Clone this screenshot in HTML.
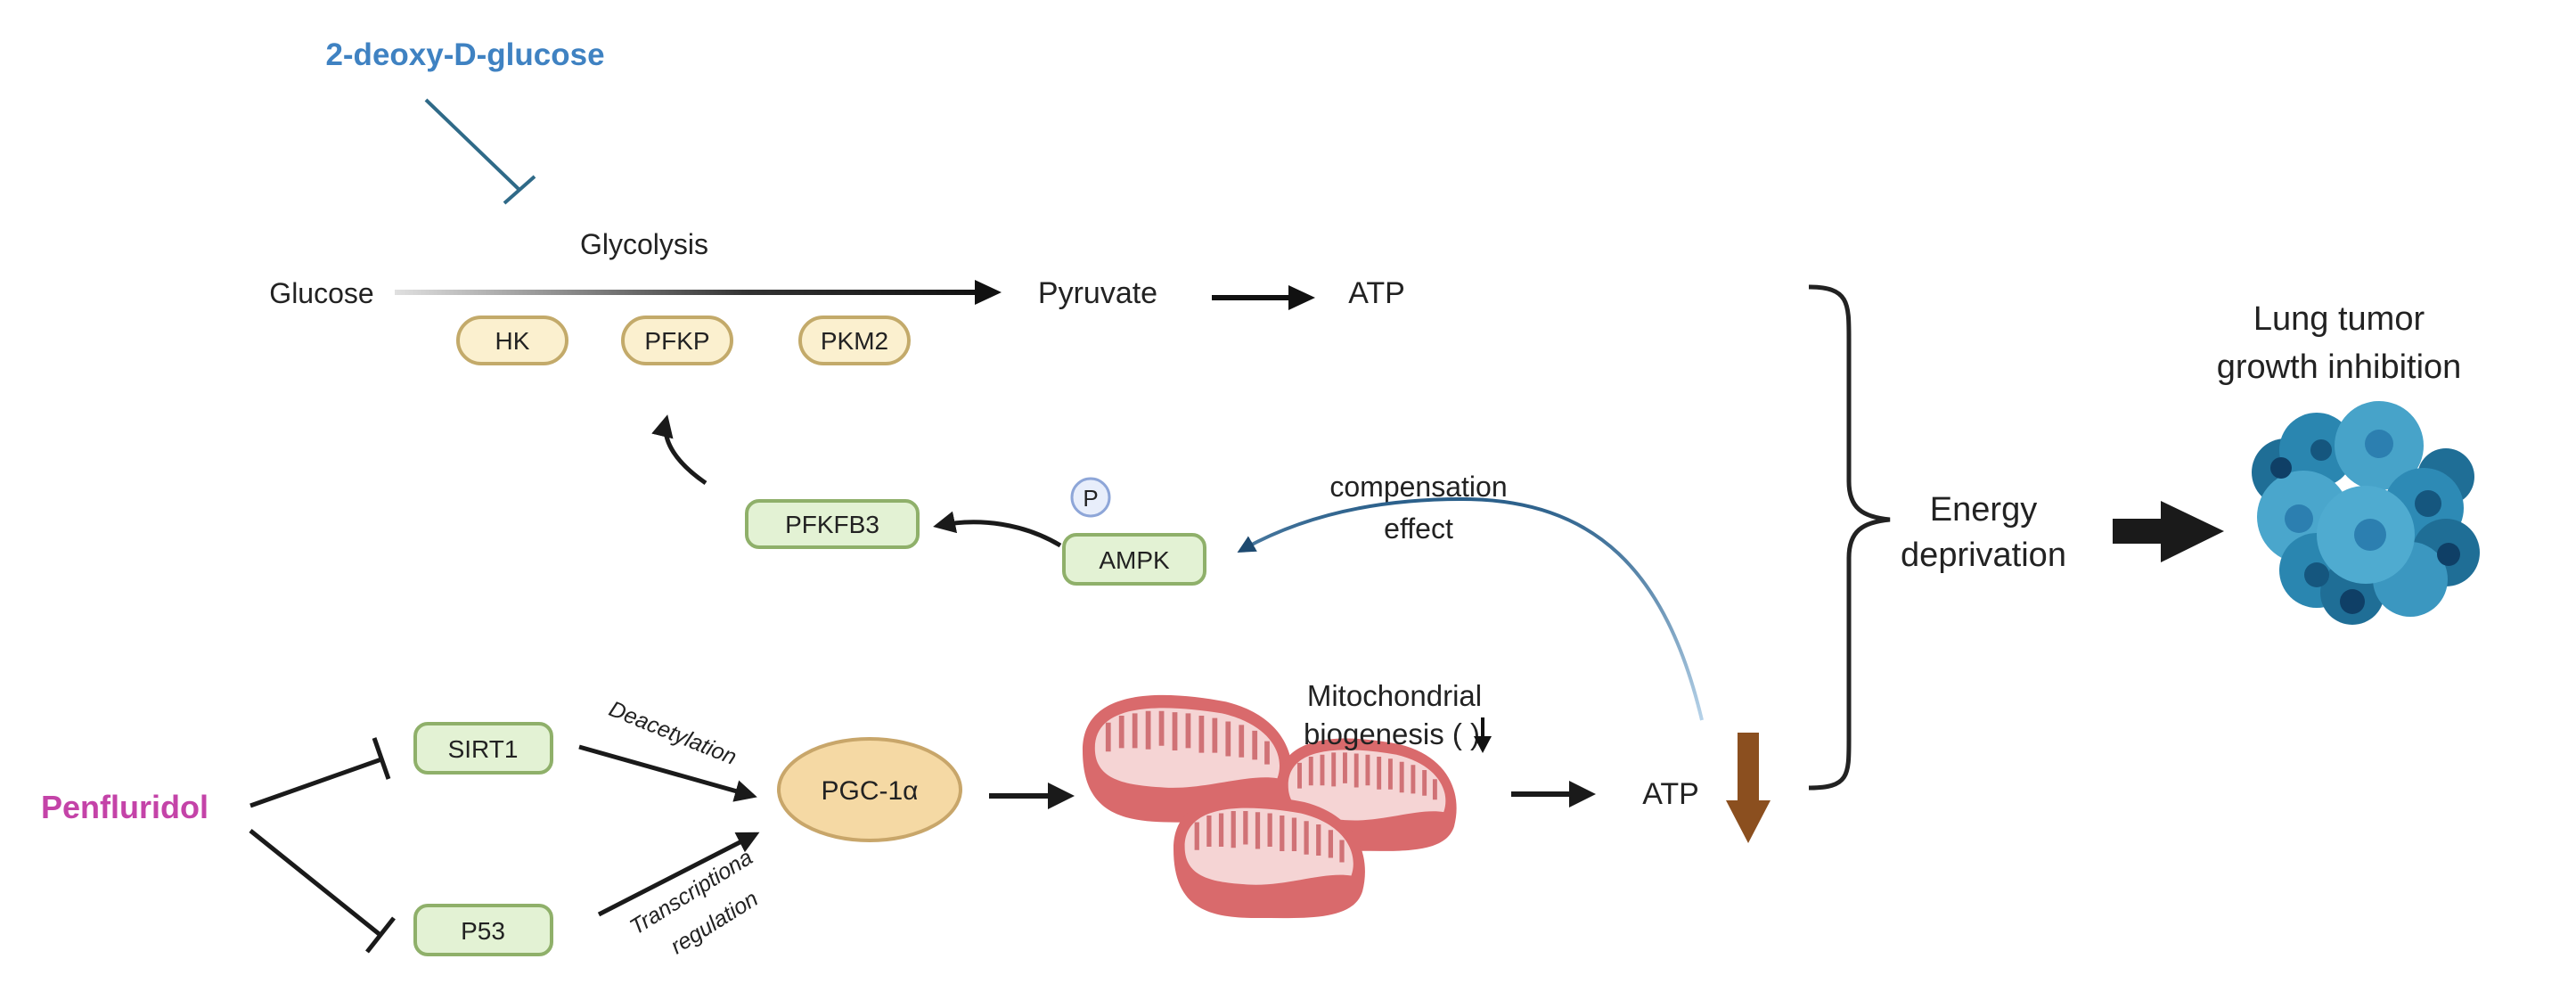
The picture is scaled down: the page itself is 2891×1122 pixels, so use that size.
<!DOCTYPE html>
<html><head><meta charset="utf-8"><style>
html,body{margin:0;padding:0;background:#fff;}
svg{display:block;}
text{font-family:"Liberation Sans",sans-serif;fill:#222;}
</style></head><body>
<svg width="2891" height="1122" viewBox="0 0 2891 1122" xmlns="http://www.w3.org/2000/svg">
<defs>
<linearGradient id="gl" gradientUnits="userSpaceOnUse" x1="443" y1="328" x2="1100" y2="328"><stop offset="0" stop-color="#e0e0e0"/><stop offset="0.6" stop-color="#333"/><stop offset="1" stop-color="#111"/></linearGradient>
<linearGradient id="bl" gradientUnits="userSpaceOnUse" x1="0" y1="810" x2="0" y2="560"><stop offset="0" stop-color="#b8d4ea"/><stop offset="1" stop-color="#2a5f8a"/></linearGradient>
<marker id="ah" viewBox="0 0 10 10" refX="8" refY="5" markerWidth="5" markerHeight="5" orient="auto"><path d="M0,0 L10,5 L0,10 z" fill="#1a1a1a"/></marker>
<marker id="ahb" viewBox="0 0 10 10" refX="8" refY="5" markerWidth="5" markerHeight="5" orient="auto"><path d="M0,0 L10,5 L0,10 z" fill="#1e4a70"/></marker>
<g id="mito">
<path d="M-100,-10 C-100,-65 -20,-62 40,-52 C95,-40 112,-5 102,28 C92,55 40,52 -10,52 C-60,52 -100,45 -100,-10 z" fill="#d96a6c"/>
<path d="M-88,-12 C-88,-52 -20,-50 36,-42 C85,-32 98,-5 90,14 C60,10 20,24 -20,22 C-55,20 -88,17 -88,-12 z" fill="#f5d4d4"/>
<path d="M-75,-34 v25 M-62,-40 v28 M-49,-42 v30 M-36,-44 v33 M-23,-44 v30 M-10,-43 v33 M3,-42 v30 M16,-40 v32 M29,-38 v30 M42,-35 v30 M55,-32 v28 M68,-27 v25 M80,-18 v20" stroke="#d07276" stroke-width="5"/>
</g>
</defs>

<text x="522" y="73" font-size="35" font-weight="bold" text-anchor="middle" style="fill:#3f82c2">2-deoxy-D-glucose</text>
<line x1="478" y1="112" x2="584" y2="214" stroke="#2f6a88" stroke-width="4"/>
<line x1="566" y1="228" x2="600" y2="198" stroke="#2f6a88" stroke-width="4"/>

<text x="723" y="285" font-size="32" text-anchor="middle">Glycolysis</text>
<text x="361" y="340" font-size="32" text-anchor="middle">Glucose</text>
<rect x="443" y="325" width="655" height="6" fill="url(#gl)"/>
<path d="M1094,314 L1124,328 L1094,342 z" fill="#111"/>
<text x="1232" y="340" font-size="34" text-anchor="middle">Pyruvate</text>
<line x1="1360" y1="334" x2="1450" y2="334" stroke="#111" stroke-width="6"/>
<path d="M1446,320 L1476,334 L1446,348 z" fill="#111"/>
<text x="1545" y="340" font-size="34" text-anchor="middle">ATP</text>

<g font-size="28" text-anchor="middle">
<rect x="514" y="356" width="122" height="52" rx="26" fill="#fbf0cf" stroke="#c3aa6a" stroke-width="4"/>
<text x="575" y="392">HK</text>
<rect x="699" y="356" width="122" height="52" rx="26" fill="#fbf0cf" stroke="#c3aa6a" stroke-width="4"/>
<text x="760" y="392">PFKP</text>
<rect x="898" y="356" width="122" height="52" rx="26" fill="#fbf0cf" stroke="#c3aa6a" stroke-width="4"/>
<text x="959" y="392">PKM2</text>
</g>

<path d="M792,542 C760,520 742,495 748,470" fill="none" stroke="#1a1a1a" stroke-width="5" marker-end="url(#ah)"/>

<rect x="838" y="562" width="192" height="52" rx="14" fill="#e3f2d4" stroke="#8fb06a" stroke-width="4"/>
<text x="934" y="598" font-size="28" text-anchor="middle">PFKFB3</text>
<circle cx="1224" cy="558" r="21" fill="#e8eefb" stroke="#8ea6d8" stroke-width="3"/>
<text x="1224" y="568" font-size="26" text-anchor="middle">P</text>
<rect x="1194" y="600" width="158" height="55" rx="14" fill="#e3f2d4" stroke="#8fb06a" stroke-width="4"/>
<text x="1273" y="638" font-size="28" text-anchor="middle">AMPK</text>
<path d="M1190,612 C1150,588 1100,580 1052,590" fill="none" stroke="#1a1a1a" stroke-width="5" marker-end="url(#ah)"/>

<text x="1592" y="557" font-size="32" text-anchor="middle">compensation</text>
<text x="1592" y="604" font-size="32" text-anchor="middle">effect</text>
<path d="M1910,808 C1870,640 1790,560 1640,560 C1530,560 1450,585 1392,618" fill="none" stroke="url(#bl)" stroke-width="4" marker-end="url(#ahb)"/>

<path d="M2030,322 C2075,322 2075,340 2075,380 L2075,540 C2075,570 2090,580 2121,583 C2090,586 2075,596 2075,626 L2075,830 C2075,870 2075,884 2030,884" fill="none" stroke="#222" stroke-width="5"/>
<text x="2226" y="584" font-size="38" text-anchor="middle">Energy</text>
<text x="2226" y="635" font-size="38" text-anchor="middle">deprivation</text>
<rect x="2371" y="582" width="60" height="28" fill="#1a1a1a"/>
<path d="M2425,562 L2496,596 L2425,631 z" fill="#1a1a1a"/>
<text x="2625" y="370" font-size="38" text-anchor="middle">Lung tumor</text>
<text x="2625" y="424" font-size="38" text-anchor="middle">growth inhibition</text>

<g>
<circle cx="2565" cy="530" r="38" fill="#1f6e96"/>
<circle cx="2745" cy="535" r="32" fill="#1f6e96"/>
<circle cx="2600" cy="505" r="42" fill="#2a86b0"/>
<circle cx="2670" cy="500" r="50" fill="#47a3c9"/>
<circle cx="2720" cy="570" r="45" fill="#2d8ab5"/>
<circle cx="2745" cy="620" r="38" fill="#1f6e96"/>
<circle cx="2585" cy="580" r="52" fill="#4aa6cc"/>
<circle cx="2600" cy="640" r="42" fill="#2a86b0"/>
<circle cx="2640" cy="665" r="36" fill="#1f6e96"/>
<circle cx="2705" cy="650" r="42" fill="#3b97c0"/>
<circle cx="2655" cy="600" r="55" fill="#4fabd0"/>
<circle cx="2660" cy="600" r="18" fill="#2c7fb0"/>
<circle cx="2670" cy="498" r="16" fill="#2c7fb0"/>
<circle cx="2580" cy="582" r="16" fill="#2c7fb0"/>
<circle cx="2725" cy="565" r="15" fill="#15567e"/>
<circle cx="2600" cy="645" r="14" fill="#15567e"/>
<circle cx="2640" cy="675" r="14" fill="#0f3f66"/>
<circle cx="2748" cy="622" r="13" fill="#0f3f66"/>
<circle cx="2560" cy="525" r="12" fill="#0f3f66"/>
<circle cx="2605" cy="505" r="12" fill="#15567e"/>
</g>

<text x="140" y="918" font-size="36" font-weight="bold" text-anchor="middle" style="fill:#c443a8">Penfluridol</text>
<line x1="281" y1="904" x2="428" y2="852" stroke="#1a1a1a" stroke-width="5"/>
<line x1="420" y1="828" x2="436" y2="874" stroke="#1a1a1a" stroke-width="5"/>
<line x1="281" y1="932" x2="428" y2="1050" stroke="#1a1a1a" stroke-width="5"/>
<line x1="412" y1="1068" x2="442" y2="1030" stroke="#1a1a1a" stroke-width="5"/>

<rect x="466" y="812" width="153" height="55" rx="14" fill="#e3f2d4" stroke="#8fb06a" stroke-width="4"/>
<text x="542" y="850" font-size="28" text-anchor="middle">SIRT1</text>
<rect x="466" y="1016" width="153" height="55" rx="14" fill="#e3f2d4" stroke="#8fb06a" stroke-width="4"/>
<text x="542" y="1054" font-size="28" text-anchor="middle">P53</text>

<line x1="650" y1="838" x2="845" y2="893" stroke="#1a1a1a" stroke-width="5" marker-end="url(#ah)"/>
<text transform="translate(752,830) rotate(22)" font-size="25" font-style="italic" text-anchor="middle">Deacetylation</text>
<line x1="672" y1="1026" x2="848" y2="936" stroke="#1a1a1a" stroke-width="5" marker-end="url(#ah)"/>
<text transform="translate(780,1008) rotate(-32)" font-size="25" font-style="italic" text-anchor="middle">Transcriptiona</text>
<text transform="translate(806,1042) rotate(-32)" font-size="25" font-style="italic" text-anchor="middle">regulation</text>

<ellipse cx="976" cy="886" rx="102" ry="57" fill="#f5d9a4" stroke="#c8a66a" stroke-width="4"/>
<text x="976" y="897" font-size="30" text-anchor="middle">PGC-1α</text>

<line x1="1110" y1="893" x2="1200" y2="893" stroke="#1a1a1a" stroke-width="6" marker-end="url(#ah)"/>

<use href="#mito" transform="translate(1330,855) scale(1.15,1.3)"/>
<use href="#mito" transform="translate(1532,895) scale(0.98,1.15)"/>
<use href="#mito" transform="translate(1422,965) scale(1.05,1.25)"/>

<text x="1565" y="792" font-size="33" text-anchor="middle">Mitochondrial</text>
<text x="1562" y="835" font-size="33" text-anchor="middle">biogenesis (  )</text>
<line x1="1664" y1="805" x2="1664" y2="830" stroke="#111" stroke-width="4"/>
<path d="M1654,826 L1674,826 L1664,845 z" fill="#111"/>

<line x1="1696" y1="891" x2="1785" y2="891" stroke="#1a1a1a" stroke-width="6" marker-end="url(#ah)"/>
<text x="1875" y="902" font-size="34" text-anchor="middle">ATP</text>

<rect x="1950" y="822" width="24" height="80" fill="#8b4f1f"/>
<path d="M1937,898 L1987,898 L1962,946 z" fill="#8b4f1f"/>
</svg>
</body></html>
